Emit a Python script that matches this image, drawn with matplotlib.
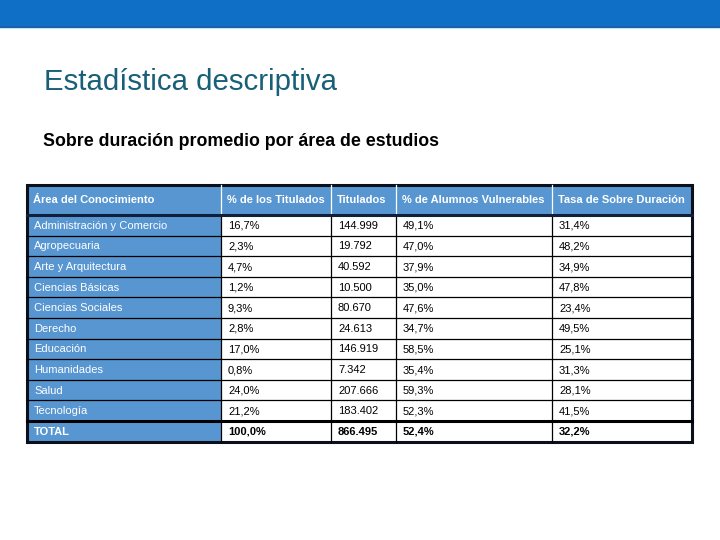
import matplotlib.pyplot as plt
from matplotlib.patches import Rectangle

plt.rcParams['font.family'] = ['Liberation Sans', 'DejaVu Sans']

# table data
headers = ['Área del Conocimiento', '% de los Titulados', 'Titulados',
           '% de Alumnos Vulnerables', 'Tasa de Sobre Duración']
areas = ['Administración y Comercio', 'Agropecuaria', 'Arte y Arquitectura',
         'Ciencias Básicas', 'Ciencias Sociales', 'Derecho', 'Educación',
         'Humanidades', 'Salud', 'Tecnología', 'TOTAL']
pct_titulados = ['16,7%', '2,3%', '4,7%', '1,2%', '9,3%', '2,8%', '17,0%',
                 '0,8%', '24,0%', '21,2%', '100,0%']
titulados = ['144.999', '19.792', '40.592', '10.500', '80.670', '24.613',
             '146.919', '7.342', '207.666', '183.402', '866.495']
pct_vulnerables = ['49,1%', '47,0%', '37,9%', '35,0%', '47,6%', '34,7%',
                   '58,5%', '35,4%', '59,3%', '52,3%', '52,4%']
tasa_sobre = ['31,4%', '48,2%', '34,9%', '47,8%', '23,4%', '49,5%', '25,1%',
              '31,3%', '28,1%', '41,5%', '32,2%']

columns = [areas, pct_titulados, titulados, pct_vulnerables, tasa_sobre]

# layout in pixels
col_edges = [27, 221, 331, 396, 552, 692]
top, head_h, row_h = 185, 30, 20.6
blue = '#5896D2'

fig = plt.figure(figsize=(7.2, 5.4), dpi=100)
ax = fig.add_axes([0, 0, 1, 1])
ax.set_xlim(0, 720)
ax.set_ylim(540, 0)
ax.axis('off')

# top banner
ax.add_patch(Rectangle((0, 0), 720, 26, color='#0F6FC6', lw=0))
ax.add_patch(Rectangle((0, 26), 720, 2, color='#1763A8', lw=0))
ax.add_patch(Rectangle((0, 28), 720, 1.2, color='#BFE9F2', lw=0))

ax.text(44, 82, 'Estadística descriptiva', fontsize=21.2, color='#185F78',
        va='center', ha='left')
ax.text(43, 141, 'Sobre duración promedio por área de estudios', fontsize=12.8,
        fontweight='bold', color='black', va='center', ha='left')

n = len(areas)
bottom = top + head_h + n * row_h

# header row
ax.add_patch(Rectangle((col_edges[0], top), col_edges[-1] - col_edges[0], head_h,
                       facecolor=blue, edgecolor='none'))
for j, h in enumerate(headers):
    ax.text(col_edges[j] + 6, top + head_h / 2, h, fontsize=8, fontweight='bold',
            color='white', va='center', ha='left')

# body rows
for i in range(n):
    y0 = top + head_h + i * row_h
    is_total = areas[i] == 'TOTAL'
    ax.add_patch(Rectangle((col_edges[0], y0), col_edges[1] - col_edges[0], row_h,
                           facecolor=blue, edgecolor='none'))
    for j, col in enumerate(columns):
        ax.text(col_edges[j] + 7, y0 + row_h / 2 + 0.5,
                col[i], fontsize=8, color='white' if j == 0 else 'black',
                fontweight='bold' if is_total else 'normal',
                va='center', ha='left')

# grid lines
for i in range(1, n):
    y = top + head_h + i * row_h
    lw = 2.2 if i == n - 1 else 0.9
    ax.plot([col_edges[0], col_edges[-1]], [y, y], color='black', lw=lw)
for x in col_edges[1:-1]:
    ax.plot([x, x], [top + head_h, bottom], color='black', lw=0.9)
    ax.plot([x, x], [top, top + head_h], color='white', lw=0.9)
ax.plot([col_edges[0], col_edges[-1]], [top + head_h, top + head_h],
        color='#10203A', lw=2.2)
ax.add_patch(Rectangle((col_edges[0], top), col_edges[-1] - col_edges[0],
                       bottom - top, facecolor='none', edgecolor='#0A0F1A', lw=2.2))

fig.savefig('out.png', dpi=100)
